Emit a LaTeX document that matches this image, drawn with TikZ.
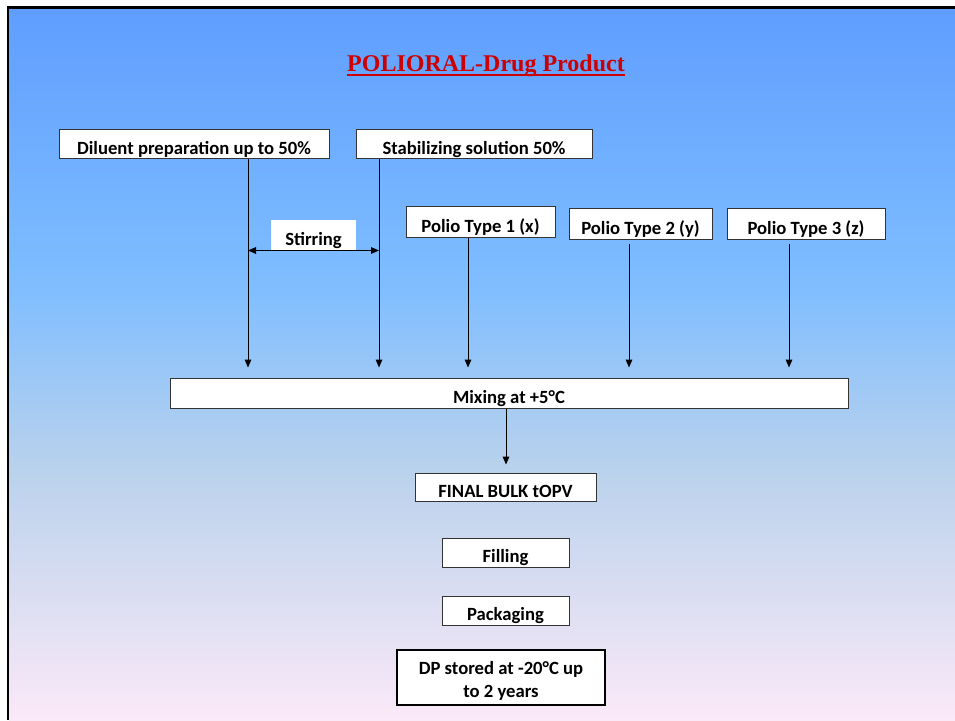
\documentclass[tikz,border=0pt]{standalone}
\usepackage{fontspec}
\setmainfont{Carlito}
\newfontfamily\titlefont{Liberation Serif}
\usetikzlibrary{arrows.meta}

\definecolor{bgtop}{RGB}{95,158,255}
\definecolor{bgsky}{RGB}{128,190,255}
\definecolor{bggrey}{RGB}{186,210,236}
\definecolor{bgbot}{RGB}{251,233,248}
\definecolor{titlered}{RGB}{204,0,0}

\begin{document}
\begin{tikzpicture}[x=0.75pt,y=-0.75pt]
        \tikzstyle{box}=[draw=black!80, fill=white, line width=0.75pt, inner sep=0pt,
                         text height=15pt, text depth=0pt,
                         font=\fontsize{14}{17}\selectfont\bfseries, align=center]
        \tikzstyle{arr}=[-{Triangle[length=6pt,width=5pt]}, line width=0.75pt]

        \useasboundingbox (0,0) rectangle (955,720);
        % background
        \shade[top color=bgtop, bottom color=bgsky] (9,9) rectangle (955,290.5);
        \shade[top color=bgsky, bottom color=bggrey] (9,290) rectangle (955,470.5);
        \shade[top color=bggrey, bottom color=bgbot] (9,470) rectangle (955,720);
        \draw[line width=2.2pt] (8,720) -- (8,7.5) -- (955,7.5);

        \node[text=titlered, inner sep=0pt, font=\titlefont\fontsize{18}{22}\selectfont\bfseries] (title) at (486,65.5)
             {POLIORAL-Drug Product};
        \draw[titlered, line width=1.6pt] ([yshift=-2.6pt]title.base west) -- ([yshift=-2.6pt]title.base east);

        \node[box, minimum width=202.5pt, minimum height=21.75pt] (dil)  at (194,144.5) {Diluent preparation up to 50\%};
        \node[box, minimum width=177pt,   minimum height=21.75pt] (stab) at (474,144.5) {Stabilizing solution 50\%};
        \node[box, draw=none, minimum width=63.75pt, minimum height=22.5pt] (stir) at (313.5,235) {Stirring};

        \node[box, minimum width=111.75pt, minimum height=22.5pt] (p1) at (480.5,222) {Polio Type 1 (x)};
        \node[box, minimum width=107.25pt, minimum height=22.5pt] (p2) at (640.5,224) {Polio Type 2 (y)};
        \node[box, minimum width=118.5pt,  minimum height=22.5pt] (p3) at (806,224)   {Polio Type 3 (z)};

        \node[box, minimum width=508.5pt, minimum height=22.5pt] (mix) at (509,393) {Mixing at +5°C};

        \node[box, minimum width=135.75pt, minimum height=21pt]   (bulk) at (505.5,487)   {FINAL BULK tOPV};
        \node[box, minimum width=95.25pt,  minimum height=21.75pt] (fill) at (505.5,552.5) {Filling};
        \node[box, minimum width=95.25pt,  minimum height=21.75pt] (pack) at (505.5,610.5) {Packaging};
        \node[box, line width=1.5pt, draw=black, text height=30pt, minimum width=156pt, minimum height=41.25pt] (dp) at (501,677.5)
             {DP stored at -20°C up\\to 2 years};

        % feeds into the mixing step
        \draw[arr, shorten >=7.5pt] (dil.south -| 248,0)  -- (mix.north -| 248,0);
        \draw[arr, shorten >=7.5pt] (stab.south -| 379,0) -- (mix.north -| 379,0);
        \draw[arr, shorten >=7.5pt] (p1.south -| 468,0)   -- (mix.north -| 468,0);
        \draw[arr, shorten >=7.5pt, shorten <=3pt] (p2.south -| 629,0) -- (mix.north -| 629,0);
        \draw[arr, shorten >=7.5pt, shorten <=3pt] (p3.south -| 789,0) -- (mix.north -| 789,0);

        \draw[{Triangle[length=6pt,width=5pt]}-{Triangle[length=6pt,width=5pt]}, line width=0.75pt]
             (stir.south -| 248,0) -- (stir.south -| 379,0);

        \draw[arr, shorten >=6pt] (mix.south -| 506,0) -- (bulk.north -| 506,0);
    \end{tikzpicture}
\end{document}
